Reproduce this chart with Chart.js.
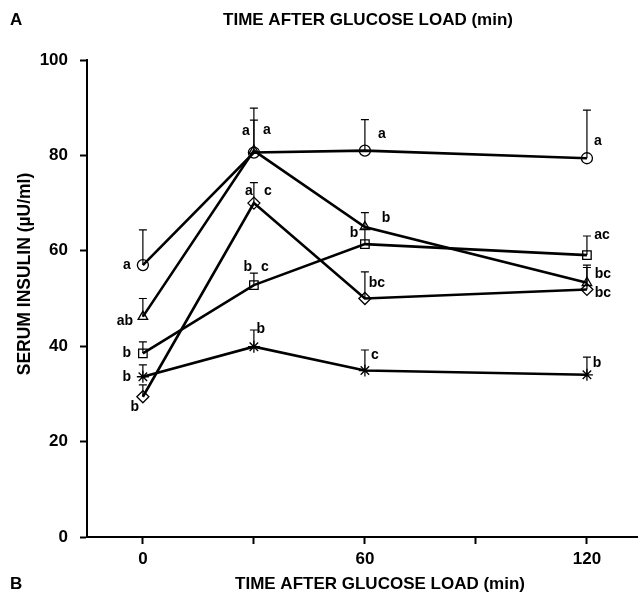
<!DOCTYPE html>
<html>
<head>
<meta charset="utf-8">
<script src="https://cdn.jsdelivr.net/npm/chart.js@4.4.0/dist/chart.umd.min.js"></script>
<style>
  html, body { margin: 0; padding: 0; background: #fff; }
  #wrap { width: 638px; height: 599px; }
</style>
</head>
<body>
<div id="wrap"><canvas id="myChart" width="638" height="599"></canvas></div>
<script>
// time after glucose load (min)
const timePoints = [0, 30, 60, 120];
const xTickValues = [0, 30, 60, 90, 120];
const xTickLabels = ["0", "", "60", "", "120"];
const yTickValues = [0, 20, 40, 60, 80, 100];

// serum insulin (uU/ml): mean and top of the SEM bar
const circleMean = [57.0, 80.6, 81.0, 79.4];
const circleTop = [64.4, 89.9, 87.5, 89.5];
const circleLetters = ["a", "a", "a", "a"];

const triangleMean = [46.2, 81.0, 65.0, 53.3];
const triangleTop = [50.0, 87.4, 68.0, 57.0];
const triangleLetters = ["ab", "a", "b", "bc"];

const squareMean = [38.5, 52.8, 61.4, 59.1];
const squareTop = [40.9, 55.3, 64.6, 63.1];
const squareLetters = ["b", "b c", "b", "ac"];

const diamondMean = [29.4, 70.0, 50.0, 51.9];
const diamondTop = [31.9, 74.3, 55.6, 56.5];
const diamondLetters = ["b", "a c", "bc", "bc"];

const starMean = [33.6, 39.9, 34.9, 34.0];
const starTop = [36.1, 43.4, 39.2, 37.7];
const starLetters = ["b", "b", "c", "b"];

// where each letter sits, in pixels from its point (one pair per word)
const circleLabelPos = [[[-16, 0]], [[-8, -21]], [[17, -16]], [[11, -17]]];
const triangleLabelPos = [[[-18, 5]], [[13, -20]], [[21, -9]], [[16, -9]]];
const squareLabelPos = [[[-16, 0]], [[-6, -18], [11, -18]], [[-11, -11]], [[15, -20]]];
const diamondLabelPos = [[[-8, 10]], [[-5, -12], [14, -12]], [[12, -15]], [[16, 4]]];
const starLabelPos = [[[-16, 0]], [[7, -18]], [[10, -15]], [[10, -12]]];

const FONT = '"Liberation Sans", Arial, sans-serif';
const X_TITLE = "TIME AFTER GLUCOSE LOAD (min)";
const Y_TITLE = "SERUM INSULIN (µU/ml)";

function series(mean, style, radius) {
  return {
    data: timePoints.map((t, i) => ({ x: t, y: mean[i] })),
    borderColor: "#000",
    borderWidth: 2.6,
    pointStyle: style,
    pointRadius: radius,
    pointBorderWidth: 1.3,
    pointBorderColor: "#000",
    pointBackgroundColor: "rgba(0,0,0,0)",
    tension: 0,
    fill: false,
  };
}

const groups = [
  { mean: circleMean, top: circleTop, letters: circleLetters, pos: circleLabelPos },
  { mean: triangleMean, top: triangleTop, letters: triangleLetters, pos: triangleLabelPos },
  { mean: squareMean, top: squareTop, letters: squareLetters, pos: squareLabelPos },
  { mean: diamondMean, top: diamondTop, letters: diamondLetters, pos: diamondLabelPos },
  { mean: starMean, top: starTop, letters: starLetters, pos: starLabelPos },
];

const extras = {
  id: "extras",
  afterDatasetsDraw(chart) {
    const ctx = chart.ctx;
    const xs = chart.scales.x;
    const ys = chart.scales.y;
    ctx.save();
    ctx.strokeStyle = "#000";
    ctx.fillStyle = "#000";
    ctx.lineWidth = 1.2;
    groups.forEach((g) => {
      timePoints.forEach((t, i) => {
        const px = xs.getPixelForValue(t);
        const py = ys.getPixelForValue(g.mean[i]);
        const ty = ys.getPixelForValue(g.top[i]);
        ctx.beginPath();
        ctx.moveTo(px, py);
        ctx.lineTo(px, ty);
        ctx.moveTo(px - 4, ty);
        ctx.lineTo(px + 4, ty);
        ctx.stroke();
      });
    });
    ctx.font = "bold 14px " + FONT;
    ctx.textAlign = "center";
    ctx.textBaseline = "middle";
    groups.forEach((g) => {
      timePoints.forEach((t, i) => {
        const px = xs.getPixelForValue(t);
        const py = ys.getPixelForValue(g.mean[i]);
        g.letters[i].split(" ").forEach((word, k) => {
          const [dx, dy] = g.pos[i][k];
          ctx.fillText(word, px + dx, py + dy);
        });
      });
    });
    ctx.restore();
  },
  afterDraw(chart) {
    const ctx = chart.ctx;
    ctx.save();
    ctx.fillStyle = "#000";
    ctx.textBaseline = "middle";
    ctx.font = "bold 17px " + FONT;
    ctx.textAlign = "left";
    ctx.fillText("A", 10, 20);
    ctx.fillText("B", 10, 584);
    ctx.textAlign = "center";
    ctx.fillText(X_TITLE, 368, 20);
    ctx.fillText(X_TITLE, 380, 584);
    // y axis title
    ctx.translate(25, 274);
    ctx.rotate(-Math.PI / 2);
    ctx.font = "bold 17.5px " + FONT;
    ctx.fillText(Y_TITLE, 0, 0);
    ctx.restore();
  },
};

const ctx = document.getElementById("myChart").getContext("2d");
new Chart(ctx, {
  type: "line",
  data: {
    datasets: [
      series(circleMean, "circle", 5.5),
      series(triangleMean, "triangle", 5.5),
      series(squareMean, "rect", 6),
      series(diamondMean, "rectRot", 6),
      series(starMean, "star", 6),
    ],
  },
  options: {
    responsive: false,
    animation: false,
    devicePixelRatio: 1,
    layout: { autoPadding: false, padding: { top: 60, right: 0, left: 0, bottom: 0 } },
    plugins: { legend: { display: false }, tooltip: { enabled: false } },
    scales: {
      x: {
        type: "linear",
        min: -15.1,
        max: 133.8,
        afterBuildTicks: (s) => {
          s.ticks = xTickValues.map((v) => ({ value: v }));
        },
        afterFit: (s) => {
          s.height = 62;
        },
        grid: { drawOnChartArea: false, drawTicks: true, tickLength: 7, tickWidth: 2, color: "#000" },
        border: { display: true, color: "#000", width: 2 },
        ticks: {
          autoSkip: false,
          maxRotation: 0,
          padding: 5,
          color: "#000",
          font: { family: FONT, size: 17, weight: "bold" },
          callback: (v) => xTickLabels[xTickValues.indexOf(v)],
        },
      },
      y: {
        min: 0,
        max: 100,
        afterBuildTicks: (s) => {
          s.ticks = yTickValues.map((v) => ({ value: v }));
        },
        afterFit: (s) => {
          s.width = 87;
        },
        grid: { drawOnChartArea: false, drawTicks: true, tickLength: 7, tickWidth: 2, color: "#000" },
        border: { display: true, color: "#000", width: 2 },
        ticks: {
          padding: 12,
          color: "#000",
          font: { family: FONT, size: 17, weight: "bold" },
        },
      },
    },
  },
  plugins: [extras],
});
</script>
</body>
</html>
